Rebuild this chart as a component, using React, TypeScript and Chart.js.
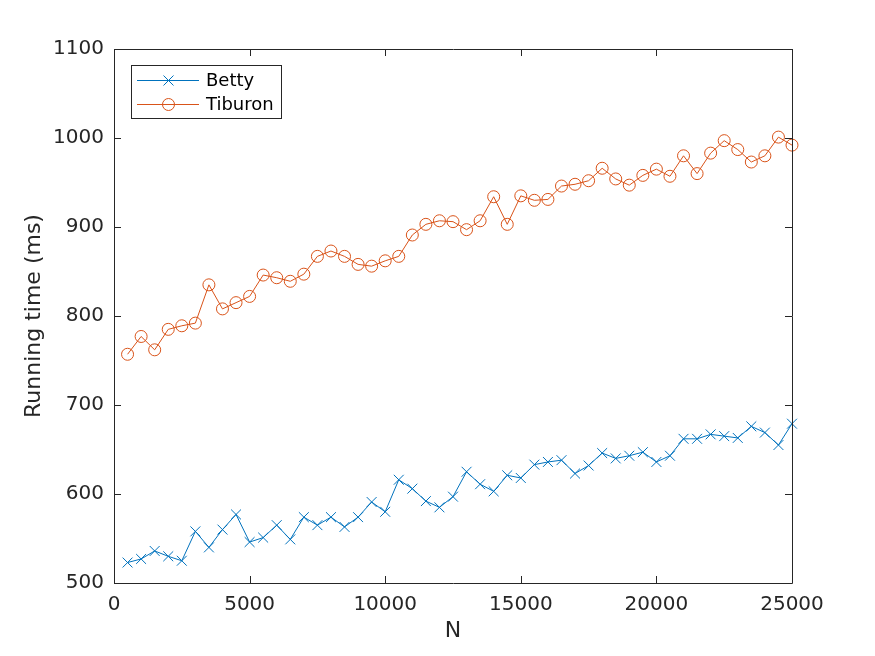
import React, { useEffect, useRef } from "react";
import { Chart, registerables } from "chart.js";

Chart.register(...registerables);

const nValues = [
  500, 1000, 1500, 2000, 2500, 3000, 3500, 4000, 4500, 5000,
  5500, 6000, 6500, 7000, 7500, 8000, 8500, 9000, 9500, 10000,
  10500, 11000, 11500, 12000, 12500, 13000, 13500, 14000, 14500, 15000,
  15500, 16000, 16500, 17000, 17500, 18000, 18500, 19000, 19500, 20000,
  20500, 21000, 21500, 22000, 22500, 23000, 23500, 24000, 24500, 25000,
];

const bettyTimes = [
  523, 527, 536, 530, 525, 558, 540, 560, 577, 546,
  551, 565, 549, 574, 565, 574, 563, 574, 591, 580,
  616, 606, 592, 585, 597, 625, 611, 603, 621, 618,
  633, 636, 638, 623, 632, 646, 640, 643, 647, 636,
  643, 662, 662, 667, 665, 663, 676, 669, 655, 679,
];

const tiburonTimes = [
  757, 777, 762, 785, 789, 792, 835, 808, 815, 822,
  846, 843, 839, 847, 867, 873, 867, 858, 856, 862,
  867, 891, 903, 907, 906, 897, 907, 934, 903, 935,
  930, 931, 946, 948, 952, 966, 954, 947, 958, 965,
  957, 980, 960, 983, 997, 987, 973, 980, 1001, 992,
];

const seriesNames = ["Betty", "Tiburon"];
const seriesColors = ["#0072BD", "#D95319"];
const xTitle = "N";
const yTitle = "Running time (ms)";
const xMin = 0, xMax = 25000, xStep = 5000;
const yMin = 500, yMax = 1100, yStep = 100;

const AXIS = "#262626";
const FONT = "'DejaVu Sans', sans-serif";

const boxPlugin = {
  id: "matlabBox",
  afterDraw(chart: any) {
    const { ctx, chartArea: a, scales } = chart;
    const tl = 7;
    ctx.save();
    ctx.strokeStyle = AXIS;
    ctx.lineWidth = 1;
    ctx.beginPath();
    ctx.rect(Math.round(a.left) + 0.5, Math.round(a.top) + 0.5, Math.round(a.right - a.left), Math.round(a.bottom - a.top));
    ctx.stroke();
    ctx.beginPath();
    scales.x.ticks.forEach((t: any) => {
      const px = Math.round(scales.x.getPixelForValue(t.value)) + 0.5;
      ctx.moveTo(px, a.bottom);
      ctx.lineTo(px, a.bottom - tl);
      ctx.moveTo(px, a.top);
      ctx.lineTo(px, a.top + tl);
    });
    scales.y.ticks.forEach((t: any) => {
      const py = Math.round(scales.y.getPixelForValue(t.value)) + 0.5;
      ctx.moveTo(a.left, py);
      ctx.lineTo(a.left + tl, py);
      ctx.moveTo(a.right, py);
      ctx.lineTo(a.right - tl, py);
    });
    ctx.stroke();

    // legend
    const lx = 131.5, ly = 65.5, lw = 150, lh = 53;
    ctx.fillStyle = "#ffffff";
    ctx.fillRect(lx, ly, lw, lh);
    ctx.strokeStyle = AXIS;
    ctx.strokeRect(lx, ly, lw, lh);
    const rows = [80, 104];
    rows.forEach((yy, i) => {
      ctx.strokeStyle = seriesColors[i];
      ctx.lineWidth = 1;
      ctx.beginPath();
      ctx.moveTo(137, yy + 0.5);
      ctx.lineTo(199, yy + 0.5);
      ctx.stroke();
      const cx = 168.5, cy = yy + 0.5;
      ctx.beginPath();
      if (i === 0) {
        const r = 5;
        ctx.moveTo(cx - r, cy - r);
        ctx.lineTo(cx + r, cy + r);
        ctx.moveTo(cx - r, cy + r);
        ctx.lineTo(cx + r, cy - r);
      } else {
        ctx.arc(cx, cy, 6, 0, Math.PI * 2);
      }
      ctx.stroke();
      ctx.fillStyle = "#000000";
      ctx.font = `18px ${FONT}`;
      ctx.textBaseline = "middle";
      ctx.textAlign = "left";
      ctx.fillText(seriesNames[i], 206, yy + 1);
    });
    ctx.restore();
  },
};

export default function App() {
  const ref = useRef<HTMLCanvasElement>(null);
  useEffect(() => {
    if (!ref.current) return;
    const chart = new Chart(ref.current, {
      type: "line",
      data: {
        datasets: [
          {
            label: seriesNames[0],
            data: nValues.map((n, i) => ({ x: n, y: bettyTimes[i] })),
            borderColor: seriesColors[0],
            backgroundColor: "transparent",
            borderWidth: 1,
            pointStyle: "crossRot",
            pointRadius: 7,
            pointBorderWidth: 1,
            pointBorderColor: seriesColors[0],
            tension: 0,
            clip: false as any,
          },
          {
            label: seriesNames[1],
            data: nValues.map((n, i) => ({ x: n, y: tiburonTimes[i] })),
            borderColor: seriesColors[1],
            backgroundColor: "transparent",
            borderWidth: 1,
            pointStyle: "circle",
            pointRadius: 6,
            pointBorderWidth: 1,
            pointBorderColor: seriesColors[1],
            pointBackgroundColor: "transparent",
            tension: 0,
            clip: false as any,
          },
        ],
      },
      options: {
        responsive: false,
        animation: false,
        layout: { padding: { top: 49, right: 83, left: 0, bottom: 0 } },
        plugins: { legend: { display: false }, tooltip: { enabled: false } },
        scales: {
          x: {
            type: "linear",
            min: xMin,
            max: xMax,
            ticks: { stepSize: xStep, color: AXIS, font: { family: FONT, size: 20 }, padding: 10, maxRotation: 0, autoSkip: false, callback: (v: any) => String(v) },
            grid: { display: false, drawTicks: false },
            border: { display: false },
            title: { display: true, text: xTitle, color: AXIS, font: { family: FONT, size: 22 }, padding: { top: 0, bottom: 12 } },
            afterFit: (s: any) => { s.height = 73; },
          },
          y: {
            type: "linear",
            min: yMin,
            max: yMax,
            ticks: { stepSize: yStep, color: AXIS, font: { family: FONT, size: 20 }, padding: 10, callback: (v: any) => String(v) },
            grid: { display: false, drawTicks: false },
            border: { display: false },
            title: { display: true, text: yTitle, color: AXIS, font: { family: FONT, size: 22 }, padding: { top: 21, bottom: 0 } },
            afterFit: (s: any) => { s.width = 114; },
          },
        },
      },
      plugins: [boxPlugin],
    });
    return () => chart.destroy();
  }, []);
  return (
    <div style={{ position: "fixed", left: 0, top: 0, width: 875, height: 656, background: "#fff" }}>
      <canvas ref={ref} width={875} height={656} style={{ display: "block" }} />
    </div>
  );
}
